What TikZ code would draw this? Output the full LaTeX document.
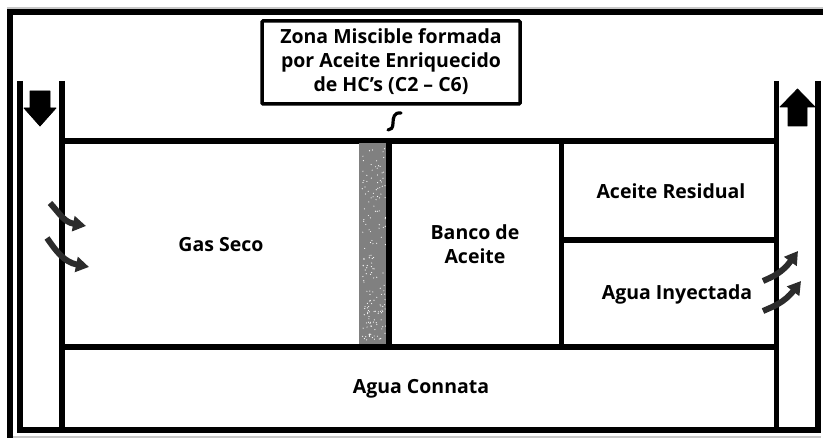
\documentclass[tikz,border=0pt]{standalone}
\usepackage{fontspec}
\setmainfont{Open Sans}
\usetikzlibrary{arrows.meta}
\definecolor{bandgray}{HTML}{808080}
\definecolor{arrowgray}{HTML}{2C2C2C}
\definecolor{edgegray}{HTML}{C8C8C8}
\begin{document}
\begin{tikzpicture}[x=1pt,y=-1pt,
  wall/.style={line width=5.5pt},
  lbl/.style={font=\fontsize{19.5}{24}\selectfont\bfseries, inner sep=0pt, align=center},
  flow/.style={line width=6pt, draw=arrowgray, line cap=butt, -{Triangle[length=13pt,width=15pt,fill=arrowgray]}},
  blockarrow/.style={fill=black, draw=black, line width=0.8pt, line join=round}]
\useasboundingbox (0,0) rectangle (823,438);
% screenshot edges
\draw[edgegray, line width=1.2pt] (7,8) -- (823,8);
\draw[edgegray, line width=1.2pt] (13,437) -- (821,437);
% outer frame
\draw[wall, line join=miter] (10,438) -- (10,12) -- (823,12);
% wells
\draw[wall] (20,81) -- (20,430);
\draw[wall] (62,81) -- (62,430);
\draw[wall] (776.5,81) -- (776.5,430);
\draw[wall] (818,81) -- (818,433);
\draw[wall] (17,430) -- (821,430);
% reservoir
\draw[wall] (62,141) -- (776.5,141);
\draw[wall] (62,347) -- (776.5,347);
% miscible band
\fill[bandgray] (359,143.5) rectangle (387,344.5);
\pgfmathsetseed{12}
\foreach \k in {1,...,170}{
  \pgfmathsetmacro{\px}{362+24*rnd}
  \pgfmathsetmacro{\py}{147+195*rnd}
  \fill[white] (\px,\py) circle[radius=0.6pt];
}
\draw[wall] (389,141) -- (389,347);
\draw[wall] (561.5,141) -- (561.5,347);
\draw[wall] (561.5,240) -- (776.5,240);
% label box
\node[draw, line width=3.5pt, rounded corners=1pt, minimum width=258pt, minimum height=83pt, inner sep=0pt] (box) at (391,62.5) {};
\node[lbl] (zona) at (391,62) {Zona Miscible formada\\por Aceite Enriquecido\\de HC's (C2 -- C6)};
% squiggle
\coordinate (sq1) at (401,113);
\coordinate (sq2) at (388,130);
\draw[line width=3.2pt, line cap=round] (sq1) .. controls (394,112) and (393,118) .. (393,123) .. controls (393,128) and (391,130) .. (sq2);
% region labels
\node[lbl] (gas) at (221,245) {Gas Seco};
\node[lbl] (banco) at (475,244) {Banco de\\Aceite};
\node[lbl] (resid) at (671,191) {Aceite Residual};
\node[lbl] (iny) at (677,294) {Agua Inyectada};
\node[lbl] (connata) at (421,389) {Agua Connata};
% well block arrows
\draw[blockarrow] (30,91) -- (50,91) -- (50,108) -- (56,108) -- (40,126) -- (24,108) -- (30,108) -- cycle;
\draw[blockarrow] (788,126) -- (807,126) -- (807,107) -- (815,107) -- (797.5,89) -- (780,107) -- (788,107) -- cycle;
% flow arrows
\coordinate (la1) at (50,203); \coordinate (lt1) at (86,226);
\coordinate (la2) at (47,238); \coordinate (lt2) at (89,267);
\coordinate (ra1) at (763,281); \coordinate (rt1) at (798,251);
\coordinate (ra2) at (763,311); \coordinate (rt2) at (801,281);
\draw[flow] (la1) .. controls (60,214) and (64,222) .. (lt1);
\draw[flow] (la2) .. controls (56,251) and (64,262) .. (lt2);
\draw[flow] (ra1) .. controls (772,277) and (782,273) .. (rt1);
\draw[flow] (ra2) .. controls (772,307) and (784,303) .. (rt2);
\end{tikzpicture}
\end{document}
